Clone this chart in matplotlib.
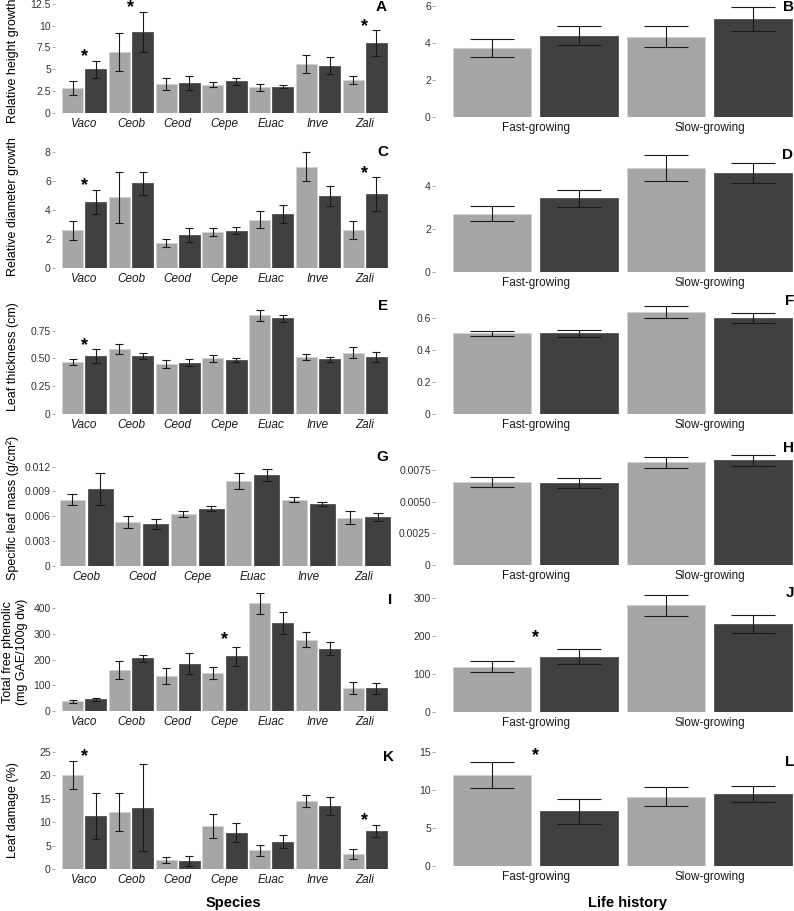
import numpy as np
import matplotlib.pyplot as plt

plt.rcParams['font.family'] = ['Liberation Sans', 'DejaVu Sans']

species = ['Vaco', 'Ceob', 'Ceod', 'Cepe', 'Euac', 'Inve', 'Zali']
species_slm = ['Ceob', 'Ceod', 'Cepe', 'Euac', 'Inve', 'Zali']
life = ['Fast-growing', 'Slow-growing']

# species panels: mean and se, light bars (a) and dark bars (b)
height_a = [2.8, 7.0, 3.3, 3.2, 2.9, 5.6, 3.8]
height_a_se = [0.8, 2.2, 0.7, 0.3, 0.4, 1.05, 0.45]
height_b = [5.0, 9.3, 3.4, 3.6, 3.0, 5.4, 8.0]
height_b_se = [1.0, 2.3, 0.8, 0.4, 0.2, 1.0, 1.5]

diam_a = [2.6, 4.87, 1.72, 2.5, 3.32, 6.96, 2.63]
diam_a_se = [0.67, 1.77, 0.28, 0.28, 0.58, 1.0, 0.62]
diam_b = [4.55, 5.84, 2.27, 2.59, 3.71, 4.97, 5.1]
diam_b_se = [0.85, 0.8, 0.49, 0.27, 0.63, 0.7, 1.15]

thick_a = [0.465, 0.582, 0.45, 0.50, 0.89, 0.51, 0.552]
thick_a_se = [0.027, 0.045, 0.04, 0.03, 0.05, 0.027, 0.052]
thick_b = [0.52, 0.522, 0.462, 0.486, 0.86, 0.492, 0.51]
thick_b_se = [0.065, 0.029, 0.03, 0.021, 0.029, 0.021, 0.045]

slm_a = [0.0080, 0.0053, 0.0063, 0.0103, 0.0080, 0.0058]
slm_a_se = [0.0007, 0.00075, 0.00038, 0.00097, 0.0003, 0.0008]
slm_b = [0.0093, 0.0050, 0.0069, 0.0110, 0.0075, 0.0059]
slm_b_se = [0.0019, 0.0006, 0.00028, 0.0007, 0.00027, 0.00045]

phen_a = [38, 160, 138, 147, 419, 277, 91]
phen_a_se = [6, 35, 31, 24, 42, 29, 23]
phen_b = [45, 205, 184, 213, 342, 243, 88]
phen_b_se = [7, 13, 40, 36, 44, 26, 21]

damage_a = [20.1, 12.2, 1.95, 9.2, 4.0, 14.5, 3.2]
damage_a_se = [3.0, 4.0, 0.65, 2.55, 1.25, 1.35, 1.1]
damage_b = [11.4, 13.1, 1.77, 7.8, 5.9, 13.5, 8.2]
damage_b_se = [4.9, 9.3, 1.15, 1.95, 1.4, 1.95, 1.3]

# life history panels
lh_height_a = [3.7, 4.34]
lh_height_a_se = [0.49, 0.55]
lh_height_b = [4.39, 5.3]
lh_height_b_se = [0.52, 0.65]

lh_diam_a = [2.7, 4.81]
lh_diam_a_se = [0.34, 0.6]
lh_diam_b = [3.41, 4.6]
lh_diam_b_se = [0.38, 0.47]

lh_thick_a = [0.506, 0.642]
lh_thick_a_se = [0.017, 0.037]
lh_thick_b = [0.505, 0.602]
lh_thick_b_se = [0.022, 0.03]

lh_slm_a = [0.00655, 0.0081]
lh_slm_a_se = [0.00036, 0.00042]
lh_slm_b = [0.00645, 0.00826]
lh_slm_b_se = [0.0004, 0.00046]

lh_phen_a = [119, 281]
lh_phen_a_se = [14, 28]
lh_phen_b = [146, 232]
lh_phen_b_se = [19.5, 25]

lh_damage_a = [12.05, 9.15]
lh_damage_a_se = [1.7, 1.23]
lh_damage_b = [7.2, 9.5]
lh_damage_b_se = [1.7, 1.05]

LIGHT, LIGHT_EDGE = '#a6a6a6', '#d2d2d2'
DARK, DARK_EDGE = '#404040', '#5a5a5a'

W, H = 794, 911
fig = plt.figure(figsize=(W / 100, H / 100), dpi=100)


def px_axes(x0, x1, top, bottom):
    return fig.add_axes([x0 / W, 1 - bottom / H, (x1 - x0) / W, (bottom - top) / H])


def panel(ax, cats, a, a_se, b, b_se, ymax, yticks, ylabels, xlim, cap,
          stars=(), star_off=2.7, italic=True, ylabel=None, label_x=13, label_y=0.5):
    x = np.arange(1, len(cats) + 1)
    ax.bar(x - 0.25, a, 0.45, color=LIGHT, edgecolor=LIGHT_EDGE, lw=0.7, zorder=2)
    ax.bar(x + 0.25, b, 0.45, color=DARK, edgecolor=DARK_EDGE, lw=0.7, zorder=2)
    for xs, m, s in ((x - 0.25, a, a_se), (x + 0.25, b, b_se)):
        ax.errorbar(xs, m, yerr=s, fmt='none', ecolor='#1a1a1a', elinewidth=0.8,
                    capsize=cap, capthick=0.8, zorder=3)
    for g in stars:
        i = cats.index(g)
        top = max(a[i] + a_se[i], b[i] + b_se[i])
        ax.annotate('*', (x[i], top), xytext=(0, star_off), textcoords='offset points',
                    ha='center', va='center', fontsize=13, fontweight='bold',
                    annotation_clip=False)
    ax.set_xlim(*xlim)
    ax.set_ylim(0, ymax)
    ax.set_xticks(x)
    ax.set_xticklabels(cats, fontsize=8.5, style='italic' if italic else 'normal',
                       color='#1a1a1a')
    ax.set_yticks(yticks)
    ax.set_yticklabels(ylabels)
    ax.tick_params(axis='y', length=2, width=0.6, color='#999999', pad=1,
                   labelsize=7.5, labelcolor='#333333')
    ax.tick_params(axis='x', length=0, pad=3.5)
    for sp in ax.spines.values():
        sp.set_visible(False)
    if ylabel:
        ax.set_ylabel(ylabel, fontsize=9, va='center', linespacing=1.15)
        x0 = ax.get_position().x0 * W
        w = ax.get_position().width * W
        ax.yaxis.set_label_coords((label_x - x0) / w, label_y)


LX = (55, 392)
RX = (435, 794)
x7 = (0.375, 7.582)
x6 = (0.435, 6.507)
x2 = (0.422, 2.485)

ax = px_axes(*LX, 0, 112.7)
panel(ax, species, height_a, height_a_se, height_b, height_b_se, 12.96,
      [0, 2.5, 5, 7.5, 10, 12.5], ['0', '2.5', '5', '7.5', '10', '12.5'], x7, 2.9,
      stars=['Vaco', 'Ceob', 'Zali'], ylabel='Relative height growth', label_y=0.46)

ax = px_axes(*LX, 145, 268.3)
panel(ax, species, diam_a, diam_a_se, diam_b, diam_b_se, 8.46,
      [0, 2, 4, 6, 8], ['0', '2', '4', '6', '8'], x7, 2.9,
      stars=['Vaco', 'Zali'], ylabel='Relative diameter growth')

ax = px_axes(*LX, 299, 414)
panel(ax, species, thick_a, thick_a_se, thick_b, thick_b_se, 1.035,
      [0, 0.25, 0.5, 0.75], ['0', '0.25', '0.50', '0.75'], x7, 2.9,
      stars=['Vaco'], ylabel='Leaf thickness (cm)')

ax = px_axes(*LX, 450, 565.7)
panel(ax, species_slm, slm_a, slm_a_se, slm_b, slm_b_se, 0.01402,
      [0, 0.003, 0.006, 0.009, 0.012], ['0', '0.003', '0.006', '0.009', '0.012'], x6, 3.5,
      ylabel='Specific leaf mass (g/cm²)')

ax = px_axes(*LX, 593, 711)
panel(ax, species, phen_a, phen_a_se, phen_b, phen_b_se, 459.6,
      [0, 100, 200, 300, 400], ['0', '100', '200', '300', '400'], x7, 2.9,
      stars=['Cepe'], star_off=5.2, ylabel='Total free phenolic\n(mg GAE/100g dw)',
      label_x=15)

ax = px_axes(*LX, 750, 869.3)
panel(ax, species, damage_a, damage_a_se, damage_b, damage_b_se, 25.36,
      [0, 5, 10, 15, 20, 25], ['0', '5', '10', '15', '20', '25'], x7, 2.9,
      stars=['Vaco', 'Zali'], ylabel='Leaf damage (%)')

ax = px_axes(*RX, 0, 116.7)
panel(ax, life, lh_height_a, lh_height_a_se, lh_height_b, lh_height_b_se, 6.32,
      [0, 2, 4, 6], ['0', '2', '4', '6'], x2, 15.5, italic=False)

ax = px_axes(*RX, 150, 271.7)
panel(ax, life, lh_diam_a, lh_diam_a_se, lh_diam_b, lh_diam_b_se, 5.66,
      [0, 2, 4], ['0', '2', '4'], x2, 15.5, italic=False)

ax = px_axes(*RX, 296, 414)
panel(ax, life, lh_thick_a, lh_thick_a_se, lh_thick_b, lh_thick_b_se, 0.74,
      [0, 0.2, 0.4, 0.6], ['0', '0.2', '0.4', '0.6'], x2, 15.5, italic=False)

ax = px_axes(*RX, 443, 565)
panel(ax, life, lh_slm_a, lh_slm_a_se, lh_slm_b, lh_slm_b_se, 0.00963,
      [0, 0.0025, 0.005, 0.0075], ['0', '0.0025', '0.0050', '0.0075'], x2, 15.5,
      italic=False)

ax = px_axes(*RX, 590, 711.7)
panel(ax, life, lh_phen_a, lh_phen_a_se, lh_phen_b, lh_phen_b_se, 322,
      [0, 100, 200, 300], ['0', '100', '200', '300'], x2, 15.5,
      stars=['Fast-growing'], star_off=8.6, italic=False)

ax = px_axes(*RX, 748, 866)
panel(ax, life, lh_damage_a, lh_damage_a_se, lh_damage_b, lh_damage_b_se, 15.57,
      [0, 5, 10, 15], ['0', '5', '10', '15'], x2, 15.5,
      stars=['Fast-growing'], star_off=4.6, italic=False)

# panel letters (right edge x, centre y in pixels)
letters = [('A', 387, 7), ('C', 388, 152), ('E', 388, 306), ('G', 388, 457),
           ('I', 392, 600), ('K', 394, 757), ('B', 794, 7), ('D', 793, 155),
           ('F', 794, 301), ('H', 794, 448), ('J', 794, 593), ('L', 794, 762)]
for t, xr, yc in letters:
    fig.text(xr / W, 1 - yc / H, t, ha='right', va='center', fontsize=11,
             fontweight='bold')

fig.text(233 / W, 1 - 903 / H, 'Species', ha='center', va='center', fontsize=10.5,
         fontweight='bold')
fig.text(628 / W, 1 - 903 / H, 'Life history', ha='center', va='center', fontsize=10.5,
         fontweight='bold')

fig.savefig('out.png', dpi=100)
